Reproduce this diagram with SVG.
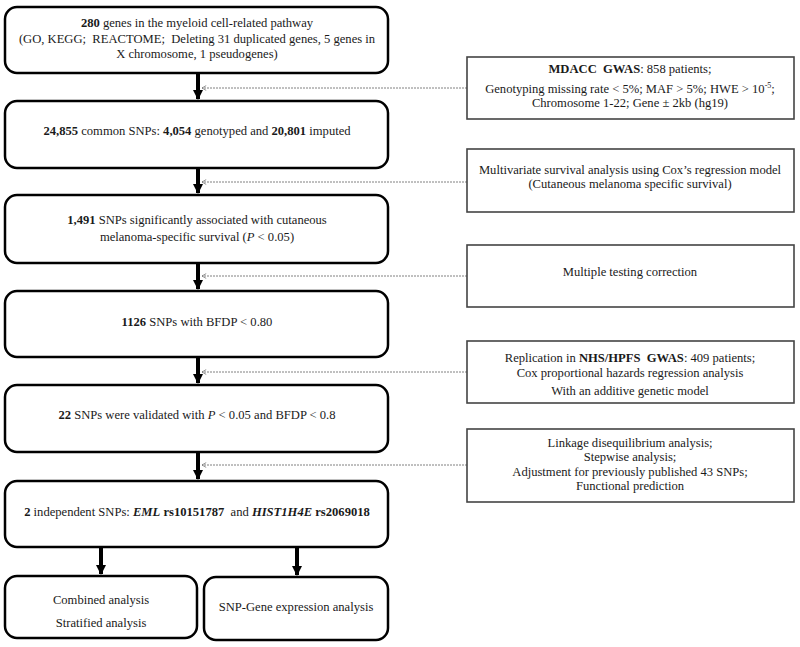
<svg xmlns="http://www.w3.org/2000/svg" width="800" height="647" viewBox="0 0 800 647">
<style>
text{font-family:"Liberation Serif","Times New Roman",serif;font-size:12.6px;fill:#1a1a1a;text-anchor:middle}
.b{font-weight:bold}
.i{font-style:italic}
.main{fill:#fff;stroke:#000;stroke-width:2.5}
.side{fill:#fff;stroke:#444;stroke-width:1.6}
.flow{stroke:#000;stroke-width:4;fill:none;marker-end:url(#ah)}
.dash{stroke:#808080;stroke-width:1;stroke-dasharray:2 1;fill:none;marker-end:url(#oh)}
</style>
<defs>
<marker id="ah" viewBox="0 0 10 10" refX="9" refY="5" markerWidth="3" markerHeight="2.5" orient="auto" markerUnits="strokeWidth">
<path d="M0,0 L10,5 L0,10 z" fill="#000"/>
</marker>
<marker id="oh" viewBox="0 0 10 10" refX="9" refY="5" markerWidth="6" markerHeight="6" orient="auto" markerUnits="userSpaceOnUse">
<path d="M2,1 L9,5 L2,9" fill="none" stroke="#666" stroke-width="1.2"/>
</marker>
</defs>
<rect width="800" height="647" fill="#fff"/>

<g id="connectors">
<line class="flow" x1="198" y1="74" x2="198" y2="99"/>
<line class="flow" x1="198" y1="169" x2="198" y2="193"/>
<line class="flow" x1="198" y1="264" x2="198" y2="289"/>
<line class="flow" x1="198" y1="358" x2="198" y2="383"/>
<line class="flow" x1="198" y1="453" x2="198" y2="479"/>
<line class="flow" x1="101" y1="548" x2="101" y2="574"/>
<line class="flow" x1="297" y1="548" x2="297" y2="575"/>
<line class="dash" x1="467" y1="88" x2="202" y2="88"/>
<line class="dash" x1="467" y1="182" x2="202" y2="182"/>
<line class="dash" x1="467" y1="276" x2="202" y2="276"/>
<line class="dash" x1="467" y1="372" x2="202" y2="372"/>
<line class="dash" x1="467" y1="465" x2="202" y2="465"/>
</g>

<g id="n1">
<rect class="main" x="5" y="7" width="383" height="66" rx="12"/>
<text x="197" y="27"><tspan class="b">280</tspan> genes in the myeloid cell-related pathway</text>
<text x="197" y="43" xml:space="preserve">(GO, KEGG;  REACTOME;  Deleting 31 duplicated genes, 5 genes in</text>
<text x="197" y="58">X chromosome, 1 pseudogenes)</text>
</g>

<g id="n2">
<rect class="main" x="5" y="101" width="383" height="67" rx="12"/>
<text x="197" y="135"><tspan class="b">24,855</tspan> common SNPs: <tspan class="b">4,054</tspan> genotyped and <tspan class="b">20,801</tspan> imputed</text>
</g>

<g id="n3">
<rect class="main" x="5" y="195" width="383" height="68" rx="12"/>
<text x="197" y="224"><tspan class="b">1,491</tspan> SNPs significantly associated with cutaneous</text>
<text x="197" y="241">melanoma-specific survival (<tspan class="i">P</tspan> &lt; 0.05)</text>
</g>

<g id="n4">
<rect class="main" x="5" y="291" width="383" height="66" rx="12"/>
<text x="197" y="326"><tspan class="b">1126</tspan> SNPs with BFDP &lt; 0.80</text>
</g>

<g id="n5">
<rect class="main" x="5" y="385" width="383" height="67" rx="12"/>
<text x="197" y="419"><tspan class="b">22</tspan> SNPs were validated with <tspan class="i">P</tspan> &lt; 0.05 and BFDP &lt; 0.8</text>
</g>

<g id="n6">
<rect class="main" x="5" y="481" width="383" height="66" rx="12"/>
<text x="197" y="516" xml:space="preserve"><tspan class="b">2</tspan> independent SNPs: <tspan class="b i">EML</tspan> <tspan class="b">rs10151787</tspan>  and <tspan class="b i">HIST1H4E</tspan> <tspan class="b">rs2069018</tspan></text>
</g>

<g id="n7">
<rect class="main" x="5" y="576" width="192" height="62" rx="12"/>
<text x="101" y="604">Combined analysis</text>
<text x="101" y="627">Stratified analysis</text>
</g>

<g id="n8">
<rect class="main" x="204" y="577" width="184" height="63" rx="12"/>
<text x="296" y="611">SNP-Gene expression analysis</text>
</g>

<g id="s1">
<rect class="side" x="467" y="57" width="327" height="62"/>
<text x="630" y="73" xml:space="preserve"><tspan class="b">MDACC  GWAS</tspan>: 858 patients;</text>
<text x="630" y="93">Genotyping missing rate &lt; 5%; MAF &gt; 5%; HWE &gt; 10<tspan dy="-5" font-size="8">-5</tspan><tspan dy="5">;</tspan></text>
<text x="630" y="107">Chromosome 1-22; Gene ± 2kb (hg19)</text>
</g>

<g id="s2">
<rect class="side" x="467" y="149" width="327" height="63"/>
<text x="630" y="174">Multivariate survival analysis using Cox’s regression model</text>
<text x="630" y="188">(Cutaneous melanoma specific survival)</text>
</g>

<g id="s3">
<rect class="side" x="467" y="245" width="327" height="62"/>
<text x="630" y="276">Multiple testing correction</text>
</g>

<g id="s4">
<rect class="side" x="467" y="341" width="327" height="62"/>
<text x="630" y="362" xml:space="preserve">Replication in <tspan class="b">NHS/HPFS  GWAS</tspan>: 409 patients;</text>
<text x="630" y="377">Cox proportional hazards regression analysis</text>
<text x="630" y="395">With an additive genetic model</text>
</g>

<g id="s5">
<rect class="side" x="467" y="429" width="327" height="73"/>
<text x="630" y="447">Linkage disequilibrium analysis;</text>
<text x="630" y="461">Stepwise analysis;</text>
<text x="630" y="476">Adjustment for previously published 43 SNPs;</text>
<text x="630" y="490">Functional prediction</text>
</g>
</svg>
